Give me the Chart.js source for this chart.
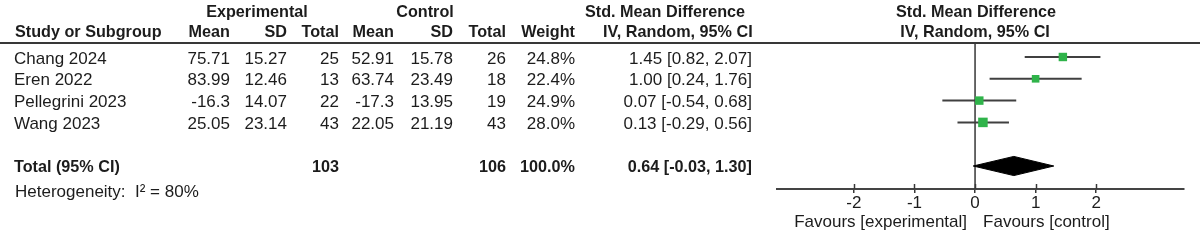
<!DOCTYPE html>
<html>
<head>
<meta charset="utf-8">
<script src="https://cdn.jsdelivr.net/npm/chart.js@4.4.1/dist/chart.umd.min.js"></script>
<style>
  html, body { margin: 0; padding: 0; background: #ffffff; }
  #wrap { width: 1200px; height: 240px; position: relative; }
</style>
</head>
<body>
<div id="wrap"><canvas id="c" width="1200" height="240"></canvas></div>
<script>
// ---- data ----
const studies    = ['Chang 2024', 'Eren 2022', 'Pellegrini 2023', 'Wang 2023'];
const expMean    = [75.71, 83.99, -16.3, 25.05];
const expSD      = [15.27, 12.46, 14.07, 23.14];
const expN       = [25, 13, 22, 43];
const ctrlMean   = [52.91, 63.74, -17.3, 22.05];
const ctrlSD     = [15.78, 23.49, 13.95, 21.19];
const ctrlN      = [26, 18, 19, 43];
const weights    = [24.8, 22.4, 24.9, 28.0];
const smd        = [1.45, 1.00, 0.07, 0.13];
const ciLow      = [0.82, 0.24, -0.54, -0.29];
const ciHigh     = [2.07, 1.76, 0.68, 0.56];
const totalLabel = 'Total (95% CI)';
const totalExpN  = 103;
const totalCtrlN = 106;
const totalWeight = 100.0;
const totalSmd   = 0.64;
const totalLow   = -0.03;
const totalHigh  = 1.30;
const i2         = 80;
const tickValues = [-2, -1, 0, 1, 2];
const tickLabels = ['-2', '-1', '0', '1', '2'];
const favourLeft = 'Favours [experimental]';
const favourRight = 'Favours [control]';

// ---- layout / style ----
const FONT = "'Liberation Sans', Arial, sans-serif";
const TXT = '#1c1c1c';
const LINE = '#383838';
const GREEN = '#2fb34a';
const TOTAL_ROW = 5;
const Y_MIN = -0.642, Y_MAX = 6.055;
const DIAMOND_H = 0.44;

const fmt2 = v => v.toFixed(2);
const ciText = (e, l, h) => fmt2(e) + ' [' + fmt2(l) + ', ' + fmt2(h) + ']';

// datasets
const markerData = smd.map((v, i) => ({ x: v, y: i }));
const markerRadius = weights.map(w => (w * 0.34) / Math.SQRT2);
const ciSets = smd.map((v, i) => ({
  data: [{ x: ciLow[i], y: i }, { x: ciHigh[i], y: i }],
  showLine: true, borderColor: '#404040', borderWidth: 2, pointRadius: 0, order: 2
}));
const diamond = [
  { x: totalLow, y: TOTAL_ROW },
  { x: totalSmd, y: TOTAL_ROW - DIAMOND_H },
  { x: totalHigh, y: TOTAL_ROW },
  { x: totalSmd, y: TOTAL_ROW + DIAMOND_H },
  { x: totalLow, y: TOTAL_ROW }
];

const tablePlugin = {
  id: 'tablePlugin',
  afterDraw(chart) {
    const ctx = chart.ctx;
    const ys = chart.scales.y, xs = chart.scales.x;
    const area = chart.chartArea;
    function t(s, x, y, align, bold, size) {
      ctx.save();
      ctx.fillStyle = TXT;
      ctx.font = (bold ? 'bold ' : '') + (size || (bold ? 16.2 : 17)) + 'px ' + FONT;
      ctx.textAlign = align || 'left';
      ctx.textBaseline = 'middle';
      ctx.fillText(s, x, y);
      ctx.restore();
    }
    // header line
    ctx.save();
    ctx.strokeStyle = LINE; ctx.lineWidth = 2;
    ctx.beginPath(); ctx.moveTo(0, area.top); ctx.lineTo(1200, area.top); ctx.stroke();
    ctx.restore();

    // header row 1
    t('Experimental', 257, 13, 'center', true);
    t('Control', 425, 13, 'center', true);
    t('Std. Mean Difference', 585, 13, 'left', true);
    t('Std. Mean Difference', 976, 13, 'center', true);
    // header row 2
    const h2 = 33;
    t('Study or Subgroup', 15, h2, 'left', true);
    t('Mean', 230, h2, 'right', true);
    t('SD', 287, h2, 'right', true);
    t('Total', 339, h2, 'right', true);
    t('Mean', 394, h2, 'right', true);
    t('SD', 453, h2, 'right', true);
    t('Total', 506, h2, 'right', true);
    t('Weight', 575, h2, 'right', true);
    t('IV, Random, 95% CI', 603, h2, 'left', true);
    t('IV, Random, 95% CI', 975, h2, 'center', true);

    // study rows
    studies.forEach((s, i) => {
      const y = ys.getPixelForValue(i) + 2;
      t(s, 14, y, 'left');
      t(String(expMean[i]), 230, y, 'right');
      t(String(expSD[i]), 287, y, 'right');
      t(String(expN[i]), 339, y, 'right');
      t(String(ctrlMean[i]), 394, y, 'right');
      t(String(ctrlSD[i]), 453, y, 'right');
      t(String(ctrlN[i]), 506, y, 'right');
      t(weights[i].toFixed(1) + '%', 575, y, 'right');
      t(ciText(smd[i], ciLow[i], ciHigh[i]), 752, y, 'right');
    });
    // total row
    const yt = ys.getPixelForValue(TOTAL_ROW) + 2;
    t(totalLabel, 14, yt, 'left', true);
    t(String(totalExpN), 339, yt, 'right', true);
    t(String(totalCtrlN), 506, yt, 'right', true);
    t(totalWeight.toFixed(1) + '%', 575, yt, 'right', true);
    t(ciText(totalSmd, totalLow, totalHigh), 752, yt, 'right', true);
    // heterogeneity
    t('Heterogeneity:  I\u00B2 = ' + i2 + '%', 15, 192, 'left');

    // upward tick marks on the axis
    ctx.save();
    ctx.strokeStyle = LINE; ctx.lineWidth = 1.5;
    tickValues.forEach(v => {
      const px = Math.round(xs.getPixelForValue(v)) + 0.5;
      ctx.beginPath(); ctx.moveTo(px, area.bottom); ctx.lineTo(px, area.bottom - 5); ctx.stroke();
    });
    ctx.restore();

    // favours labels
    const x0 = xs.getPixelForValue(0);
    t(favourLeft, x0 - 8, 222, 'right');
    t(favourRight, x0 + 8, 222, 'left');
  }
};

new Chart(document.getElementById('c'), {
  type: 'scatter',
  data: {
    datasets: [
      {
        data: markerData,
        pointStyle: 'rect',
        pointRadius: markerRadius,
        pointBackgroundColor: GREEN,
        pointBorderWidth: 0,
        pointBorderColor: GREEN,
        showLine: false,
        order: 0
      },
      ...ciSets,
      {
        data: diamond,
        showLine: true,
        fill: 'shape',
        backgroundColor: '#000000',
        borderColor: '#000000',
        borderWidth: 1,
        pointRadius: 0,
        tension: 0,
        order: 1
      },
      {
        data: [{ x: 0, y: Y_MIN }, { x: 0, y: Y_MAX }],
        showLine: true,
        borderColor: LINE,
        borderWidth: 1.5,
        pointRadius: 0,
        order: 3
      }
    ]
  },
  options: {
    responsive: false,
    animation: false,
    events: [],
    layout: { padding: { left: 777, right: 16, top: 43, bottom: 0 } },
    plugins: { legend: { display: false }, tooltip: { enabled: false } },
    scales: {
      x: {
        type: 'linear',
        min: -3.27,
        max: 3.45,
        afterBuildTicks: ax => { ax.ticks = tickValues.map(v => ({ value: v })); },
        afterFit: ax => { ax.height = 51; },
        grid: { drawOnChartArea: false, drawTicks: true, tickLength: 4, color: LINE, lineWidth: 1.5 },
        border: { display: true, color: '#444444', width: 2 },
        ticks: {
          color: TXT,
          font: { family: FONT, size: 17 },
          padding: 0,
          autoSkip: false,
          maxRotation: 0,
          callback: (v) => { const k = tickValues.indexOf(v); return k >= 0 ? tickLabels[k] : ''; }
        }
      },
      y: {
        type: 'linear',
        display: false,
        reverse: true,
        min: Y_MIN,
        max: Y_MAX
      }
    }
  },
  plugins: [tablePlugin]
});
</script>
</body>
</html>
